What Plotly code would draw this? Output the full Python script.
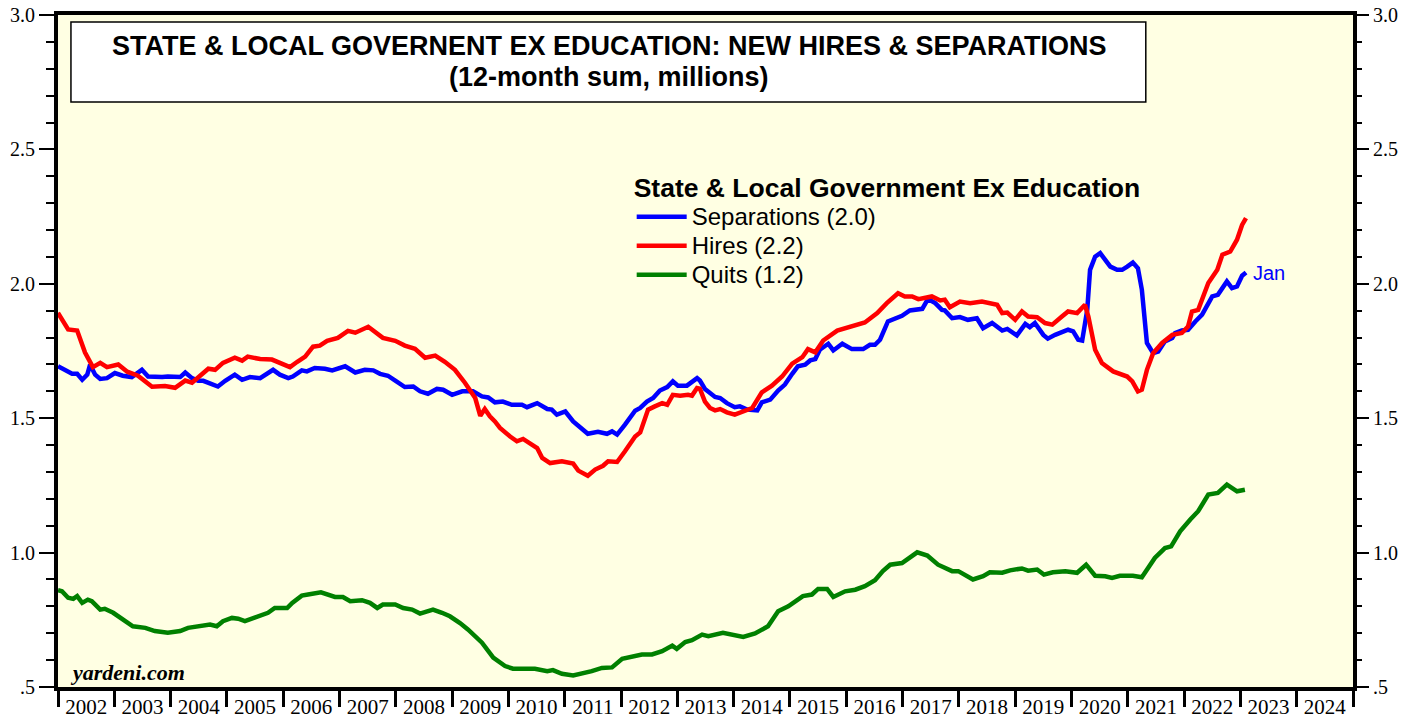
import plotly.graph_objects as go

# ---------------- data (12-month sums, millions; x in decimal years) ----------------
sep_t = [2002.00, 2002.12, 2002.25, 2002.34, 2002.43, 2002.52, 2002.57, 2002.66, 2002.75, 2002.87,
         2003.01, 2003.15, 2003.31, 2003.49, 2003.60, 2003.85, 2003.95, 2004.17, 2004.26, 2004.38,
         2004.49, 2004.58, 2004.70, 2004.84, 2004.97, 2005.14, 2005.27, 2005.41, 2005.59, 2005.71,
         2005.82, 2005.94, 2006.09, 2006.17, 2006.33, 2006.42, 2006.56, 2006.74, 2006.87, 2007.10,
         2007.28, 2007.45, 2007.60, 2007.72, 2007.86, 2007.99, 2008.16, 2008.31, 2008.43, 2008.57,
         2008.73, 2008.84, 2009.00, 2009.18, 2009.37, 2009.53, 2009.64, 2009.76, 2009.90, 2010.06,
         2010.24, 2010.33, 2010.51, 2010.69, 2010.77, 2010.86, 2011.01, 2011.15, 2011.31, 2011.41,
         2011.59, 2011.75, 2011.84, 2011.93, 2012.07, 2012.25, 2012.34, 2012.46, 2012.57, 2012.69,
         2012.82, 2012.92, 2013.01, 2013.17, 2013.35, 2013.40, 2013.49, 2013.67, 2013.76, 2013.88,
         2014.02, 2014.11, 2014.24, 2014.42, 2014.50, 2014.65, 2014.79, 2014.91, 2015.04, 2015.14,
         2015.27, 2015.36, 2015.45, 2015.53, 2015.68, 2015.77, 2015.93, 2016.10, 2016.30, 2016.42,
         2016.51, 2016.60, 2016.74, 2016.87, 2016.99, 2017.13, 2017.28, 2017.35, 2017.45, 2017.58,
         2017.70, 2017.75, 2017.88, 2018.02, 2018.16, 2018.32, 2018.43, 2018.59, 2018.77, 2018.86,
         2019.03, 2019.18, 2019.26, 2019.35, 2019.50, 2019.58, 2019.71, 2019.83, 2019.94, 2020.03,
         2020.12, 2020.19, 2020.28, 2020.33, 2020.42, 2020.51, 2020.60, 2020.69, 2020.81, 2020.90,
         2020.99, 2021.09, 2021.18, 2021.25, 2021.34, 2021.45, 2021.54, 2021.66, 2021.79, 2021.84,
         2021.96, 2022.07, 2022.20, 2022.32, 2022.50, 2022.60, 2022.76, 2022.85, 2022.94, 2023.03,
         2023.10]
sep_v = [1.693, 1.680, 1.665, 1.665, 1.643, 1.662, 1.699, 1.662, 1.646, 1.649,
         1.668, 1.658, 1.653, 1.680, 1.655, 1.653, 1.655, 1.653, 1.670, 1.649,
         1.639, 1.639, 1.628, 1.618, 1.639, 1.662, 1.643, 1.653, 1.649, 1.665,
         1.680, 1.662, 1.649, 1.655, 1.678, 1.674, 1.687, 1.684, 1.678, 1.693,
         1.670, 1.680, 1.678, 1.665, 1.658, 1.640, 1.616, 1.618, 1.600, 1.591,
         1.609, 1.606, 1.587, 1.600, 1.600, 1.581, 1.577, 1.559, 1.562, 1.550,
         1.550, 1.541, 1.556, 1.534, 1.532, 1.513, 1.525, 1.488, 1.460, 1.442,
         1.449, 1.442, 1.451, 1.439, 1.476, 1.528, 1.538, 1.562, 1.575, 1.603,
         1.616, 1.637, 1.621, 1.621, 1.649, 1.640, 1.609, 1.579, 1.575, 1.556,
         1.541, 1.544, 1.532, 1.529, 1.559, 1.569, 1.603, 1.625, 1.665, 1.693,
         1.699, 1.715, 1.720, 1.755, 1.777, 1.752, 1.777, 1.757, 1.757, 1.773,
         1.773, 1.792, 1.860, 1.869, 1.881, 1.901, 1.907, 1.907, 1.943, 1.928,
         1.903, 1.901, 1.872, 1.876, 1.866, 1.872, 1.835, 1.854, 1.826, 1.832,
         1.808, 1.851, 1.839, 1.854, 1.810, 1.796, 1.810, 1.819, 1.829, 1.823,
         1.792, 1.789, 1.903, 2.052, 2.101, 2.114, 2.092, 2.064, 2.052, 2.052,
         2.064, 2.079, 2.058, 1.978, 1.780, 1.742, 1.748, 1.786, 1.798, 1.817,
         1.826, 1.829, 1.860, 1.885, 1.953, 1.959, 2.009, 1.984, 1.990, 2.030,
         2.042]

hires_t = [2002.00, 2002.18, 2002.34, 2002.48, 2002.62, 2002.75, 2002.87, 2003.07, 2003.23, 2003.42,
           2003.67, 2003.90, 2004.08, 2004.26, 2004.38, 2004.49, 2004.67, 2004.79, 2004.93, 2005.14,
           2005.27, 2005.37, 2005.59, 2005.80, 2005.94, 2006.12, 2006.25, 2006.39, 2006.53, 2006.65,
           2006.78, 2006.97, 2007.15, 2007.28, 2007.51, 2007.63, 2007.77, 2007.99, 2008.16, 2008.34,
           2008.52, 2008.70, 2008.87, 2009.05, 2009.23, 2009.41, 2009.50, 2009.58, 2009.67, 2009.76,
           2009.85, 2010.03, 2010.15, 2010.26, 2010.38, 2010.51, 2010.60, 2010.74, 2010.95, 2011.15,
           2011.24, 2011.41, 2011.54, 2011.68, 2011.77, 2011.93, 2012.07, 2012.25, 2012.34, 2012.48,
           2012.60, 2012.73, 2012.82, 2012.92, 2013.05, 2013.19, 2013.26, 2013.35, 2013.40, 2013.49,
           2013.58, 2013.67, 2013.76, 2013.88, 2014.02, 2014.15, 2014.33, 2014.50, 2014.68, 2014.86,
           2015.04, 2015.22, 2015.32, 2015.45, 2015.59, 2015.84, 2016.03, 2016.16, 2016.33, 2016.55,
           2016.72, 2016.92, 2017.04, 2017.17, 2017.28, 2017.52, 2017.67, 2017.75, 2017.84, 2018.02,
           2018.20, 2018.41, 2018.52, 2018.68, 2018.77, 2018.86, 2019.00, 2019.12, 2019.23, 2019.39,
           2019.53, 2019.66, 2019.83, 2019.94, 2020.10, 2020.24, 2020.30, 2020.42, 2020.54, 2020.74,
           2020.99, 2021.08, 2021.18, 2021.25, 2021.34, 2021.45, 2021.61, 2021.79, 2021.96, 2022.07,
           2022.14, 2022.25, 2022.43, 2022.59, 2022.68, 2022.82, 2022.94, 2023.03, 2023.10]
hires_v = [1.892, 1.830, 1.826, 1.744, 1.690, 1.706, 1.690, 1.700, 1.673, 1.658,
           1.617, 1.620, 1.613, 1.640, 1.632, 1.650, 1.684, 1.680, 1.706, 1.725,
           1.714, 1.729, 1.720, 1.718, 1.706, 1.690, 1.710, 1.729, 1.766, 1.770,
           1.788, 1.799, 1.825, 1.818, 1.840, 1.822, 1.799, 1.788, 1.770, 1.758,
           1.725, 1.733, 1.710, 1.680, 1.631, 1.575, 1.509, 1.534, 1.507, 1.488,
           1.464, 1.432, 1.414, 1.423, 1.405, 1.389, 1.352, 1.333, 1.340, 1.331,
           1.305, 1.286, 1.309, 1.323, 1.340, 1.337, 1.377, 1.432, 1.447, 1.532,
           1.544, 1.556, 1.550, 1.587, 1.584, 1.587, 1.584, 1.612, 1.610, 1.562,
           1.538, 1.529, 1.534, 1.522, 1.513, 1.525, 1.538, 1.596, 1.621, 1.655,
           1.703, 1.727, 1.757, 1.745, 1.789, 1.826, 1.839, 1.848, 1.856, 1.891,
           1.928, 1.965, 1.953, 1.953, 1.943, 1.953, 1.938, 1.941, 1.913, 1.934,
           1.928, 1.934, 1.928, 1.922, 1.891, 1.893, 1.866, 1.897, 1.878, 1.876,
           1.854, 1.848, 1.878, 1.897, 1.891, 1.922, 1.878, 1.755, 1.705, 1.674,
           1.655, 1.637, 1.600, 1.606, 1.680, 1.742, 1.780, 1.810, 1.817, 1.841,
           1.897, 1.903, 2.003, 2.052, 2.108, 2.120, 2.164, 2.219, 2.244]

quits_t = [2002.00, 2002.07, 2002.18, 2002.27, 2002.34, 2002.43, 2002.53, 2002.60, 2002.75, 2002.83,
           2002.98, 2003.15, 2003.33, 2003.55, 2003.72, 2003.95, 2004.17, 2004.31, 2004.49, 2004.70,
           2004.82, 2004.93, 2005.09, 2005.20, 2005.32, 2005.45, 2005.59, 2005.73, 2005.85, 2006.07,
           2006.16, 2006.33, 2006.44, 2006.53, 2006.67, 2006.92, 2007.06, 2007.19, 2007.40, 2007.54,
           2007.67, 2007.77, 2007.99, 2008.13, 2008.29, 2008.43, 2008.66, 2008.82, 2008.96, 2009.14,
           2009.28, 2009.53, 2009.73, 2009.94, 2010.08, 2010.47, 2010.69, 2010.79, 2010.95, 2011.15,
           2011.36, 2011.48, 2011.66, 2011.84, 2012.02, 2012.20, 2012.37, 2012.55, 2012.73, 2012.91,
           2012.99, 2013.14, 2013.26, 2013.44, 2013.55, 2013.81, 2013.94, 2014.17, 2014.38, 2014.61,
           2014.79, 2014.97, 2015.23, 2015.39, 2015.50, 2015.66, 2015.77, 2015.98, 2016.16, 2016.33,
           2016.51, 2016.65, 2016.78, 2016.99, 2017.26, 2017.44, 2017.63, 2017.88, 2017.99, 2018.25,
           2018.43, 2018.55, 2018.77, 2018.91, 2019.12, 2019.23, 2019.39, 2019.51, 2019.67, 2019.89,
           2020.10, 2020.26, 2020.42, 2020.60, 2020.72, 2020.86, 2021.09, 2021.25, 2021.48, 2021.66,
           2021.77, 2021.93, 2022.11, 2022.25, 2022.43, 2022.60, 2022.76, 2022.94, 2023.08]
quits_v = [0.860, 0.856, 0.832, 0.828, 0.838, 0.813, 0.825, 0.819, 0.788, 0.791,
           0.776, 0.751, 0.726, 0.720, 0.708, 0.702, 0.708, 0.720, 0.724, 0.732,
           0.726, 0.745, 0.757, 0.754, 0.745, 0.754, 0.763, 0.776, 0.794, 0.794,
           0.813, 0.840, 0.844, 0.848, 0.852, 0.835, 0.835, 0.819, 0.823, 0.813,
           0.794, 0.807, 0.807, 0.794, 0.788, 0.773, 0.788, 0.776, 0.763, 0.738,
           0.714, 0.665, 0.609, 0.578, 0.568, 0.568, 0.559, 0.563, 0.549, 0.543,
           0.551, 0.559, 0.571, 0.573, 0.605, 0.614, 0.621, 0.621, 0.633, 0.654,
           0.642, 0.667, 0.674, 0.695, 0.689, 0.702, 0.695, 0.686, 0.699, 0.726,
           0.782, 0.800, 0.838, 0.844, 0.865, 0.865, 0.835, 0.856, 0.862, 0.875,
           0.897, 0.931, 0.955, 0.961, 1.001, 0.989, 0.955, 0.931, 0.931, 0.900,
           0.912, 0.927, 0.925, 0.934, 0.941, 0.933, 0.937, 0.918, 0.927, 0.931,
           0.925, 0.955, 0.914, 0.912, 0.906, 0.914, 0.914, 0.908, 0.980, 1.017,
           1.023, 1.079, 1.123, 1.154, 1.216, 1.222, 1.253, 1.228, 1.234]

years = list(range(2002, 2025))
year_labels = [str(y) for y in years]
y_ticks = [0.5, 1.0, 1.5, 2.0, 2.5, 3.0]
y_ticktext = [".5", "1.0", "1.5", "2.0", "2.5", "3.0"]

# ---------------- figure ----------------
SANS = "Liberation Sans, Arial, sans-serif"
SERIF = "Liberation Serif, Times New Roman, serif"


def legend_name(s):
    return "<span style='font-size:24px'>" + s + "</span>"


fig = go.Figure()
fig.add_trace(go.Scatter(x=hires_t, y=hires_v, mode="lines", name=legend_name("Hires (2.2)"),
                         line=dict(color="#FF0000", width=4.5), legendrank=2, yaxis="y2"))
fig.add_trace(go.Scatter(x=sep_t, y=sep_v, mode="lines", name=legend_name("Separations (2.0)"),
                         line=dict(color="#0000FF", width=4.5), legendrank=1))
fig.add_trace(go.Scatter(x=quits_t, y=quits_v, mode="lines", name=legend_name("Quits (1.2)"),
                         line=dict(color="#008000", width=4.5), legendrank=3, xaxis="x2"))

xr = [2002, 2025]
yr = [0.5, 3.0]
minor_y = dict(dtick=0.1, tick0=0.5, ticks="outside", ticklen=8, tickwidth=2, tickcolor="black")

fig.update_layout(
    width=1419, height=719,
    margin=dict(l=58, r=66, t=15, b=32, autoexpand=False),
    paper_bgcolor="white",
    plot_bgcolor="#FFFFE3",
    showlegend=True,
    xaxis=dict(range=xr, tickvals=list(range(2002, 2026)), ticks="outside", ticklen=16,
               tickwidth=2.5, tickcolor="black", showticklabels=False, showgrid=False,
               zeroline=False, showline=True, linewidth=4, linecolor="black", mirror=True,
               automargin=False),
    xaxis2=dict(range=xr, overlaying="x", anchor="y", side="bottom",
                tickvals=[y + 0.5 for y in years], ticktext=year_labels,
                ticks="outside", ticklen=1, tickcolor="rgba(0,0,0,0)",
                showgrid=False, zeroline=False, showline=False, automargin=False,
                ticklabeloverflow="allow",
                tickfont=dict(family=SERIF, size=21, color="black")),
    yaxis=dict(range=yr, tickvals=y_ticks, ticktext=y_ticktext, ticks="outside", ticklen=15,
               tickwidth=2, tickcolor="black", minor=minor_y, showgrid=False, zeroline=False,
               showline=True, linewidth=4, linecolor="black", mirror=True, automargin=False,
               ticklabeloverflow="allow",
               tickfont=dict(family=SERIF, size=20, color="black")),
    yaxis2=dict(range=yr, overlaying="y", side="right", anchor="x", tickvals=y_ticks,
                ticktext=y_ticktext, ticks="outside", ticklen=15, tickwidth=2, tickcolor="black",
                minor=minor_y, showgrid=False, zeroline=False, showline=False, automargin=False,
                ticklabeloverflow="allow",
                tickfont=dict(family=SERIF, size=20, color="black")),
    legend=dict(x=0.443, y=0.78, xanchor="left", yanchor="top", bgcolor="rgba(0,0,0,0)",
                font=dict(family=SANS, size=20, color="black"), itemwidth=50,
                tracegroupgap=0,
                title=dict(text="<b>State & Local Government Ex Education</b>",
                           font=dict(family=SANS, size=26.5, color="black"))),
)

# title box
fig.add_shape(type="rect", xref="paper", yref="paper", x0=0.010, x1=0.840, y0=0.8705, y1=0.9896,
              fillcolor="white", line=dict(color="black", width=1.5), layer="above")
fig.add_annotation(xref="paper", yref="paper", x=0.4255, y=0.9539, xanchor="center", yanchor="middle",
                   text="<b>STATE & LOCAL GOVERNENT EX EDUCATION: NEW HIRES & SEPARATIONS</b>",
                   showarrow=False, font=dict(family=SANS, size=27, color="black"))
fig.add_annotation(xref="paper", yref="paper", x=0.4255, y=0.9077, xanchor="center", yanchor="middle",
                   text="<b>(12-month sum, millions)</b>",
                   showarrow=False, font=dict(family=SANS, size=27, color="black"))
# last-point label
fig.add_annotation(x=sep_t[-1], y=sep_v[-1], xanchor="left", yanchor="middle", xshift=5,
                   text="Jan", showarrow=False, font=dict(family=SANS, size=20, color="#0000FF"))
# source
fig.add_annotation(xref="paper", yref="paper", x=0.008, y=0.022, xanchor="left", yanchor="middle",
                   text="<b><i>yardeni.com</i></b>", showarrow=False,
                   font=dict(family=SERIF, size=22, color="black"))

# remove the browser's default 8px body margin so the figure fills the window exactly
fig.write_html("out.html", config={"displayModeBar": False},
               post_script="document.body.style.margin='0px';")
